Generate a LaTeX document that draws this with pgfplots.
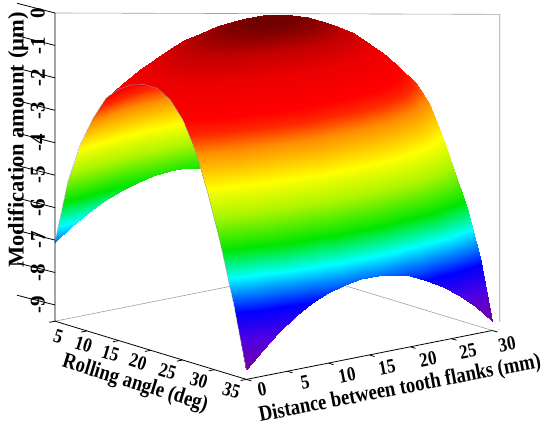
\documentclass[border=0pt]{standalone}
\usepackage{fontspec}
\setmainfont{Liberation Serif}
\usepackage{pgfplots}
\usepackage{pgfplotstable}
\pgfplotsset{compat=1.18}
\newcommand\ztickfont{\fontsize{21bp}{24bp}\selectfont\bfseries}
\newcommand\tickfont{\fontsize{20bp}{24bp}\selectfont\bfseries}
\newcommand\labfont{\fontsize{22bp}{25bp}\selectfont\bfseries}
\newcommand\zlabfont{\fontsize{22.5bp}{25bp}\selectfont\bfseries}
\newcommand\sq[1]{\scalebox{0.85}[1]{#1}}
% modification amount (um): x = distance between tooth flanks (mm), y = rolling angle (deg)
\pgfplotstableread[row sep=\\]{
x y z\\
0 5 -7.06\\ 2 5 -6.69\\ 4 5 -6.37\\ 6 5 -6.10\\ 8 5 -5.89\\ 10 5 -5.73\\ 12 5 -5.62\\ 14 5 -5.57\\ 16 5 -5.59\\ 18 5 -5.68\\ 20 5 -5.87\\ 22 5 -6.14\\ 24 5 -6.49\\ 26 5 -6.93\\ 28 5 -7.46\\ 30 5 -8.06\\
0 7 -5.10\\ 2 7 -4.73\\ 4 7 -4.42\\ 6 7 -4.15\\ 8 7 -3.94\\ 10 7 -3.78\\ 12 7 -3.68\\ 14 7 -3.63\\ 16 7 -3.65\\ 18 7 -3.74\\ 20 7 -3.92\\ 22 7 -4.19\\ 24 7 -4.54\\ 26 7 -4.98\\ 28 7 -5.50\\ 30 7 -6.10\\
0 9 -3.80\\ 2 9 -3.44\\ 4 9 -3.13\\ 6 9 -2.87\\ 8 9 -2.66\\ 10 9 -2.50\\ 12 9 -2.40\\ 14 9 -2.35\\ 16 9 -2.37\\ 18 9 -2.46\\ 20 9 -2.64\\ 22 9 -2.91\\ 24 9 -3.26\\ 26 9 -3.69\\ 28 9 -4.21\\ 30 9 -4.80\\
0 11 -2.88\\ 2 11 -2.52\\ 4 11 -2.21\\ 6 11 -1.96\\ 8 11 -1.75\\ 10 11 -1.60\\ 12 11 -1.50\\ 14 11 -1.45\\ 16 11 -1.47\\ 18 11 -1.56\\ 20 11 -1.74\\ 22 11 -2.00\\ 24 11 -2.35\\ 26 11 -2.77\\ 28 11 -3.29\\ 30 11 -3.88\\
0 13 -2.15\\ 2 13 -1.80\\ 4 13 -1.49\\ 6 13 -1.24\\ 8 13 -1.04\\ 10 13 -0.89\\ 12 13 -0.79\\ 14 13 -0.74\\ 16 13 -0.76\\ 18 13 -0.85\\ 20 13 -1.03\\ 22 13 -1.29\\ 24 13 -1.63\\ 26 13 -2.05\\ 28 13 -2.57\\ 30 13 -3.15\\
0 15 -1.75\\ 2 15 -1.40\\ 4 15 -1.10\\ 6 15 -0.85\\ 8 15 -0.65\\ 10 15 -0.51\\ 12 15 -0.41\\ 14 15 -0.36\\ 16 15 -0.38\\ 18 15 -0.47\\ 20 15 -0.65\\ 22 15 -0.90\\ 24 15 -1.24\\ 26 15 -1.66\\ 28 15 -2.17\\ 30 15 -2.75\\
0 17 -1.50\\ 2 17 -1.16\\ 4 17 -0.86\\ 6 17 -0.62\\ 8 17 -0.42\\ 10 17 -0.27\\ 12 17 -0.18\\ 14 17 -0.13\\ 16 17 -0.15\\ 18 17 -0.24\\ 20 17 -0.41\\ 22 17 -0.67\\ 24 17 -1.01\\ 26 17 -1.42\\ 28 17 -1.93\\ 30 17 -2.50\\
0 19 -1.37\\ 2 19 -1.03\\ 4 19 -0.74\\ 6 19 -0.49\\ 8 19 -0.30\\ 10 19 -0.15\\ 12 19 -0.06\\ 14 19 -0.01\\ 16 19 -0.03\\ 18 19 -0.12\\ 20 19 -0.29\\ 22 19 -0.55\\ 24 19 -0.88\\ 26 19 -1.30\\ 28 19 -1.80\\ 30 19 -2.37\\
0 21 -1.36\\ 2 21 -1.02\\ 4 21 -0.73\\ 6 21 -0.49\\ 8 21 -0.30\\ 10 21 -0.15\\ 12 21 -0.05\\ 14 21 -0.01\\ 16 21 -0.03\\ 18 21 -0.11\\ 20 21 -0.29\\ 22 21 -0.55\\ 24 21 -0.88\\ 26 21 -1.29\\ 28 21 -1.79\\ 30 21 -2.36\\
0 23 -1.58\\ 2 23 -1.22\\ 4 23 -0.91\\ 6 23 -0.65\\ 8 23 -0.45\\ 10 23 -0.29\\ 12 23 -0.19\\ 14 23 -0.14\\ 16 23 -0.16\\ 18 23 -0.25\\ 20 23 -0.43\\ 22 23 -0.70\\ 24 23 -1.04\\ 26 23 -1.47\\ 28 23 -1.99\\ 30 23 -2.58\\
0 25 -2.08\\ 2 25 -1.69\\ 4 25 -1.36\\ 6 25 -1.09\\ 8 25 -0.87\\ 10 25 -0.70\\ 12 25 -0.59\\ 14 25 -0.54\\ 16 25 -0.56\\ 18 25 -0.65\\ 20 25 -0.84\\ 22 25 -1.12\\ 24 25 -1.48\\ 26 25 -1.92\\ 28 25 -2.46\\ 30 25 -3.08\\
0 27 -2.90\\ 2 27 -2.48\\ 4 27 -2.13\\ 6 27 -1.83\\ 8 27 -1.59\\ 10 27 -1.42\\ 12 27 -1.30\\ 14 27 -1.24\\ 16 27 -1.26\\ 18 27 -1.36\\ 20 27 -1.56\\ 22 27 -1.84\\ 24 27 -2.22\\ 26 27 -2.69\\ 28 27 -3.25\\ 30 27 -3.90\\
0 29 -4.15\\ 2 29 -3.70\\ 4 29 -3.32\\ 6 29 -3.00\\ 8 29 -2.74\\ 10 29 -2.55\\ 12 29 -2.42\\ 14 29 -2.36\\ 16 29 -2.37\\ 18 29 -2.47\\ 20 29 -2.66\\ 22 29 -2.93\\ 24 29 -3.29\\ 26 29 -3.74\\ 28 29 -4.27\\ 30 29 -4.90\\
0 31 -5.60\\ 2 31 -5.12\\ 4 31 -4.71\\ 6 31 -4.37\\ 8 31 -4.10\\ 10 31 -3.89\\ 12 31 -3.76\\ 14 31 -3.69\\ 16 31 -3.70\\ 18 31 -3.78\\ 20 31 -3.94\\ 22 31 -4.19\\ 24 31 -4.51\\ 26 31 -4.91\\ 28 31 -5.39\\ 30 31 -5.95\\
0 33 -7.30\\ 2 33 -6.80\\ 4 33 -6.37\\ 6 33 -6.01\\ 8 33 -5.72\\ 10 33 -5.50\\ 12 33 -5.36\\ 14 33 -5.29\\ 16 33 -5.29\\ 18 33 -5.36\\ 20 33 -5.51\\ 22 33 -5.73\\ 24 33 -6.03\\ 26 33 -6.40\\ 28 33 -6.84\\ 30 33 -7.35\\
0 35 -9.20\\ 2 35 -8.68\\ 4 35 -8.23\\ 6 35 -7.86\\ 8 35 -7.56\\ 10 35 -7.33\\ 12 35 -7.18\\ 14 35 -7.11\\ 16 35 -7.11\\ 18 35 -7.18\\ 20 35 -7.33\\ 22 35 -7.56\\ 24 35 -7.86\\ 26 35 -8.23\\ 28 35 -8.68\\ 30 35 -9.20\\
}\domtab
\begin{document}
\begin{tikzpicture}
\begin{axis}[
  x={(8.2bp,1.63bp)}, y={(-6.38bp,1.94bp)}, z={(0bp,32.44bp)},
  y dir=reverse,
  xmin=0, xmax=30, ymin=5, ymax=35, zmin=-9.5, zmax=0,
  hide axis, clip=false,
  colormap={ref}{rgb255(0cm)=(120,0,160) rgb255(9cm)=(80,0,225) rgb255(17cm)=(0,0,255) rgb255(23cm)=(0,150,255) rgb255(27cm)=(0,255,255) rgb255(35cm)=(0,230,0) rgb255(44.5cm)=(170,245,0) rgb255(52.5cm)=(255,255,0) rgb255(62.5cm)=(255,140,0) rgb255(67.5cm)=(255,40,0) rgb255(71.5cm)=(255,0,0) rgb255(80.5cm)=(235,0,0) rgb255(86.5cm)=(195,0,0) rgb255(92.7cm)=(105,0,0)},
  point meta min=-9.25, point meta max=0.02,
]
\coordinate (O) at (axis cs:0,5,0);
% back frame
\draw[gray!75, line width=0.6bp] (axis cs:0,5,-9.5) -- (axis cs:30,5,-9.5) -- (axis cs:30,35,-9.5);
\draw[gray!75, line width=0.6bp] (axis cs:30.9,35,-9.28) -- (axis cs:30.9,35,0.2) -- (axis cs:0,5,0);
\addplot3[surf, shader=interp, z buffer=reverse x seq, mesh/cols=16, point meta=\thisrow{z}] table[x=x, y=y, z=z] {\domtab};
% front edge outline
\addplot3[gray!80, line width=0.4bp] coordinates {(0,5,-7.06) (0,7,-5.10) (0,9,-3.80) (0,11,-2.88) (0,13,-2.15) (0,15,-1.75) (0,17,-1.50) (0,19,-1.37) (0,21,-1.36) (0,23,-1.58) (0,25,-2.08) (0,27,-2.90) (0,29,-4.15) (0,31,-5.60) (0,33,-7.30) (0,35,-9.20)};
% axes
\draw[black, line width=0.8bp] (axis cs:0,5,0) -- (axis cs:0,5,-9.5) -- (axis cs:0,35,-9.5) -- (axis cs:30,35,-9.5);
\pgfplotsinvokeforeach{0,-1,-2,-3,-4,-5,-6,-7,-8,-9}{
  \draw[line width=0.8bp] (axis cs:0,5,#1) -- ++(-6bp,0);
  \node[rotate=90, anchor=south, inner sep=0pt, font=\ztickfont] at ([xshift=-10bp]axis cs:0,5,#1) {#1};
}
\pgfplotsinvokeforeach{5,10,15,20,25,30,35}{
  \draw[line width=0.8bp] (axis cs:0,#1,-9.5) -- (axis cs:-0.7,#1,-9.5);
}
\pgfplotsinvokeforeach{0,5,10,15,20,25,30}{
  \draw[line width=0.8bp] (axis cs:#1,35,-9.5) -- (axis cs:#1,35.8,-9.5);
}
\end{axis}
% rolling-angle tick labels
\foreach \v/\dx/\dy in {5/3.3/-323.5, 10/28.5/-331.5, 15/55.5/-340.5, 20/83/-349, 25/112.5/-358.5, 30/144/-367.5, 35/176.5/-377.5}
  \node[rotate=-17, inner sep=0pt, font=\tickfont] at ([shift={(\dx bp,\dy bp)}]O) {\sq{\v}};
% distance tick labels
\foreach \v/\dx/\dy in {0/207/-376, 5/250/-369, 10/292/-362.5, 15/332/-354.5, 20/373/-346.5, 25/413/-338.5, 30/452/-331}
  \node[rotate=11, inner sep=0pt, font=\tickfont] at ([shift={(\dx bp,\dy bp)}]O) {\sq{\v}};
\node[rotate=90, inner sep=0pt, font=\zlabfont] at ([shift={(-37bp,-127bp)}]O) {Modification amount (µm)};
\node[rotate=-17, inner sep=0pt, font=\labfont] at ([shift={(80bp,-371bp)}]O) {\sq{Rolling angle (deg)}};
\node[rotate=11, inner sep=0pt, font=\labfont] at ([shift={(345bp,-376bp)}]O) {\sq{Distance between tooth flanks (mm)}};
\pgfresetboundingbox
\path[use as bounding box] ([shift={(-55bp,13bp)}]O) rectangle ([shift={(495bp,-414bp)}]O);
\end{tikzpicture}
\end{document}
